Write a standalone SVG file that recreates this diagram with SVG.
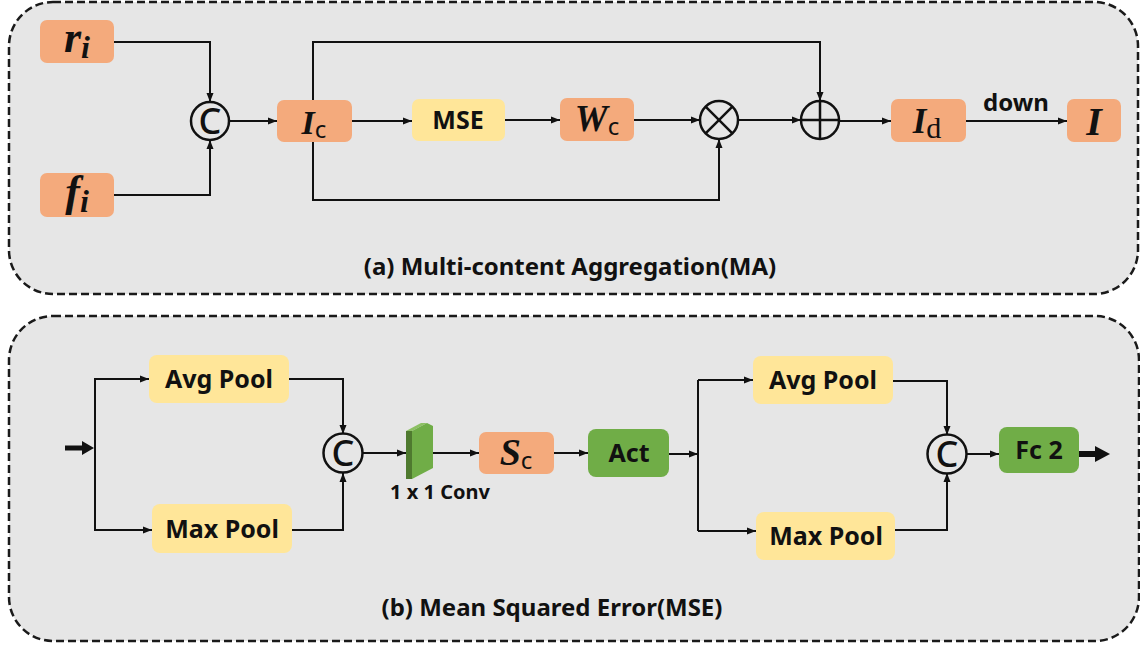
<svg xmlns="http://www.w3.org/2000/svg" width="1140" height="647" viewBox="0 0 1140 647">
  <style>
    .panel { fill: #e6e6e6; stroke: #1a1a1a; stroke-width: 2.5; stroke-dasharray: 8 4; }
    .orange { fill: #f4aa7c; }
    .yellow { fill: #ffe699; }
    .green { fill: #70ad47; }
    .lbl { font-family: "Noto Sans", "Open Sans", sans-serif; font-weight: bold; fill: #111; text-anchor: middle; }
    .math { font-family: "Liberation Serif", "DejaVu Serif", serif; font-weight: bold; font-style: italic; fill: #111; text-anchor: middle; }
    .sub { font-family: "Noto Sans", sans-serif; font-style: normal; font-weight: normal; }
    .subserif { font-family: "Liberation Serif", serif; font-style: normal; font-weight: normal; }
    .wire { fill: none; stroke: #111; stroke-width: 2; }
    .wire-end { fill: none; stroke: #111; stroke-width: 2; marker-end: url(#arrow); }
    .op { fill: none; stroke: #111; stroke-width: 2.5; }
    .opline { stroke: #111; stroke-width: 2.5; }
    .csym { font-family: "Noto Sans", sans-serif; font-size: 36px; font-weight: 500; fill: #111; text-anchor: middle; }
  </style>
  <defs>
    <marker id="arrow" markerUnits="userSpaceOnUse" markerWidth="9" markerHeight="8" refX="9" refY="4" orient="auto">
      <path d="M0,0.5 L9,4 L0,7.5 z" fill="#111"/>
    </marker>
  </defs>

  <!-- panel backgrounds -->
  <rect class="panel" x="9" y="2" width="1129" height="292" rx="44"/>
  <rect class="panel" x="9" y="316" width="1130" height="325" rx="44"/>

  <!-- connectors -->
  <g id="connectors">
    <path class="wire-end" d="M114,42 H210 V102"/>
    <path class="wire-end" d="M114,195 H210 V140"/>
    <path class="wire-end" d="M229,121 H277"/>
    <path class="wire-end" d="M313,100 V42 H820 V101"/>
    <path class="wire-end" d="M313,142 V200 H719 V139"/>
    <path class="wire-end" d="M352,121 H412"/>
    <path class="wire-end" d="M505,120 H560"/>
    <path class="wire-end" d="M634,120 H700"/>
    <path class="wire-end" d="M738,120 H801"/>
    <path class="wire-end" d="M839,121 H891"/>
    <path class="wire-end" d="M966,121 H1067"/>

    <polygon points="65,445.5 82,445.5 82,441 94,448 82,455 82,450.5 65,450.5" fill="#111"/>
    <path class="wire-end" d="M95,448 V379 H149"/>
    <path class="wire-end" d="M95,448 V530 H152"/>
    <path class="wire-end" d="M289,379 H343 V434"/>
    <path class="wire-end" d="M292,530 H343 V473"/>
    <path class="wire-end" d="M363,453 H406"/>
    <path class="wire-end" d="M433,453 H479"/>
    <path class="wire-end" d="M554,453 H588"/>
    <path class="wire-end" d="M669,454 H698"/>
    <path class="wire" d="M698,380 V531"/>
    <path class="wire-end" d="M698,380 H753"/>
    <path class="wire-end" d="M698,531 H756"/>
    <path class="wire-end" d="M893,381 H947 V435"/>
    <path class="wire-end" d="M895,530 H947 V473"/>
    <path class="wire-end" d="M966,454 H999"/>
    <polygon points="1079,451 1095,451 1095,446 1110,454 1095,462 1095,457 1079,457" fill="#111"/>
  </g>

  <!-- (a) Multi-content Aggregation -->
  <g id="node-ri">
    <rect class="orange" x="40" y="20" width="74" height="43" rx="7"/>
    <text class="math" x="77" y="52" font-size="44">r<tspan font-size="32" dy="6">i</tspan></text>
  </g>
  <g id="node-fi">
    <rect class="orange" x="40" y="173" width="74" height="44" rx="7"/>
    <text class="math" x="77" y="206" font-size="44">f<tspan font-size="32" dy="6">i</tspan></text>
  </g>
  <g id="concat-a">
    <circle class="op" cx="210" cy="121" r="19"/>
    <text class="csym" x="210" y="134">C</text>
  </g>
  <g id="node-ic">
    <rect class="orange" x="277" y="100" width="75" height="42" rx="7"/>
    <text class="math" x="314" y="134" font-size="34">I<tspan class="sub" font-size="24" dy="4">c</tspan></text>
  </g>
  <g id="node-mse">
    <rect class="yellow" x="412" y="99" width="93" height="42" rx="7"/>
    <text class="lbl" x="458" y="129" font-size="25">MSE</text>
  </g>
  <g id="node-wc">
    <rect class="orange" x="560" y="98" width="74" height="43" rx="7"/>
    <text class="math" x="597" y="131" font-size="37">W<tspan class="sub" font-size="24" dy="4">c</tspan></text>
  </g>
  <g id="multiply">
    <circle class="op" cx="719" cy="120" r="19"/>
    <line class="opline" x1="705.6" y1="106.6" x2="732.4" y2="133.4"/>
    <line class="opline" x1="732.4" y1="106.6" x2="705.6" y2="133.4"/>
  </g>
  <g id="add">
    <circle class="op" cx="820" cy="120" r="19"/>
    <line class="opline" x1="801" y1="120" x2="839" y2="120"/>
    <line class="opline" x1="820" y1="101" x2="820" y2="139"/>
  </g>
  <g id="node-id">
    <rect class="orange" x="891" y="99" width="75" height="43" rx="7"/>
    <text class="math" x="927" y="133" font-size="35">I<tspan class="subserif" font-size="30" dy="5">d</tspan></text>
  </g>
  <g id="label-down">
    <text class="lbl" x="1016" y="111" font-size="24">down</text>
  </g>
  <g id="node-i">
    <rect class="orange" x="1067" y="99" width="54" height="43" rx="7"/>
    <text class="math" x="1094" y="135" font-size="40">I</text>
  </g>
  <text class="lbl" x="570" y="275" font-size="24">(a) Multi-content Aggregation(MA)</text>

  <!-- (b) Mean Squared Error -->
  <g id="node-avgpool-1">
    <rect class="yellow" x="149" y="355" width="140" height="48" rx="8"/>
    <text class="lbl" x="219" y="388" font-size="25">Avg Pool</text>
  </g>
  <g id="node-maxpool-1">
    <rect class="yellow" x="152" y="504" width="140" height="49" rx="8"/>
    <text class="lbl" x="222" y="538" font-size="25">Max Pool</text>
  </g>
  <g id="concat-b1">
    <circle class="op" cx="343" cy="453" r="19.5"/>
    <text class="csym" x="343" y="466">C</text>
  </g>
  <g id="node-conv">
    <polygon points="406,431 421,423 427,423 412,431" fill="#8cc063"/>
    <polygon points="412,431 427,423 433,426 433,468 412,479" fill="#70ad47"/>
    <rect x="406" y="431" width="6" height="48" fill="#4f7a2f"/>
    <text class="lbl" x="440" y="499" font-size="20">1 x 1 Conv</text>
  </g>
  <g id="node-sc">
    <rect class="orange" x="479" y="432" width="75" height="42" rx="7"/>
    <text class="math" x="516" y="465" font-size="38">S<tspan class="sub" font-size="24" dy="4">c</tspan></text>
  </g>
  <g id="node-act">
    <rect class="green" x="588" y="429" width="81" height="48" rx="8"/>
    <text class="lbl" x="629" y="462" font-size="25">Act</text>
  </g>
  <g id="node-avgpool-2">
    <rect class="yellow" x="753" y="356" width="140" height="48" rx="8"/>
    <text class="lbl" x="823" y="389" font-size="25">Avg Pool</text>
  </g>
  <g id="node-maxpool-2">
    <rect class="yellow" x="756" y="512" width="139" height="48" rx="8"/>
    <text class="lbl" x="826" y="545" font-size="25">Max Pool</text>
  </g>
  <g id="concat-b2">
    <circle class="op" cx="947" cy="454" r="19.5"/>
    <text class="csym" x="947" y="467">C</text>
  </g>
  <g id="node-fc2">
    <rect class="green" x="999" y="427" width="80" height="46" rx="8"/>
    <text class="lbl" x="1039" y="459" font-size="25">Fc 2</text>
  </g>
  <text class="lbl" x="552" y="616" font-size="24">(b) Mean Squared Error(MSE)</text>
</svg>
